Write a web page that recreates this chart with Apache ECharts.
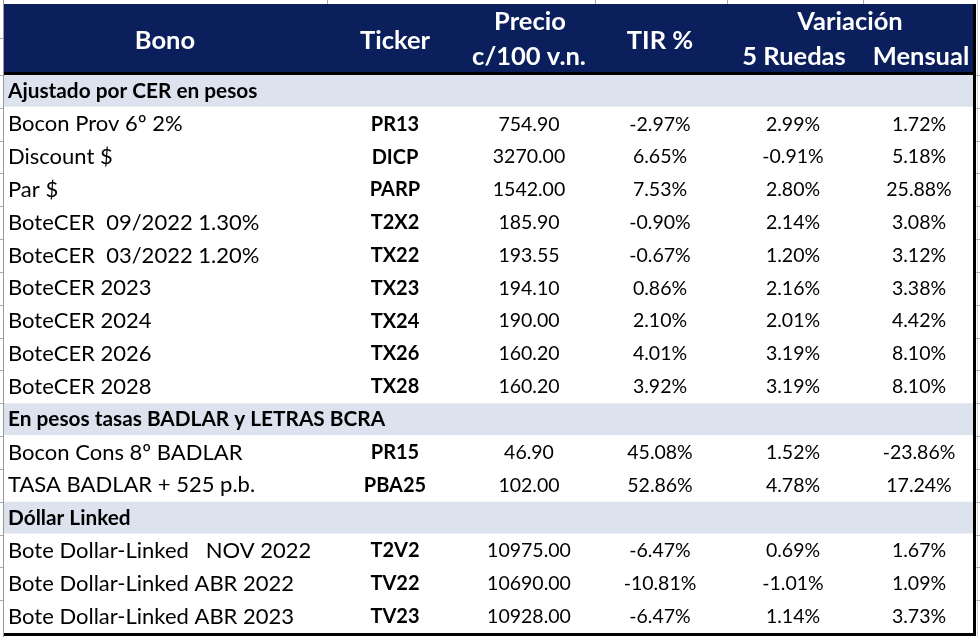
<!DOCTYPE html>
<html>
<head>
<meta charset="utf-8">
<script src="https://cdn.jsdelivr.net/npm/echarts@6/dist/echarts.min.js"></script>
<style>html,body{margin:0;padding:0;background:#fff}#c{width:980px;height:637px}</style>
</head>
<body>
<div id="c"></div>
<script>
// ---- data ----
const sections = ["Ajustado por CER en pesos", "En pesos tasas BADLAR y LETRAS BCRA", "Dóllar Linked"];
const sectionOf = [0,0,0,0,0,0,0,0,0,1,1,2,2,2];
const bonos = ["Bocon Prov 6º 2%", "Discount $", "Par $", "BoteCER  09/2022 1.30%", "BoteCER  03/2022 1.20%", "BoteCER 2023", "BoteCER 2024", "BoteCER 2026", "BoteCER 2028", "Bocon Cons 8º BADLAR", "TASA BADLAR + 525 p.b.", "Bote Dollar-Linked   NOV 2022", "Bote Dollar-Linked ABR 2022", "Bote Dollar-Linked ABR 2023"];
const tickers = ["PR13","DICP","PARP","T2X2","TX22","TX23","TX24","TX26","TX28","PR15","PBA25","T2V2","TV22","TV23"];
const precios = [754.90, 3270.00, 1542.00, 185.90, 193.55, 194.10, 190.00, 160.20, 160.20, 46.90, 102.00, 10975.00, 10690.00, 10928.00];
const tir = [-2.97, 6.65, 7.53, -0.90, -0.67, 0.86, 2.10, 4.01, 3.92, 45.08, 52.86, -6.47, -10.81, -6.47];
const ruedas5 = [2.99, -0.91, 2.80, 2.14, 1.20, 2.16, 2.01, 3.19, 3.19, 1.52, 4.78, 0.69, -1.01, 1.14];
const mensual = [1.72, 5.18, 25.88, 3.08, 3.12, 3.38, 4.42, 8.10, 8.10, -23.86, 17.24, 1.67, 1.09, 3.73];
const headerTop = ["Bono", "Ticker", "Precio", "c/100 v.n.", "TIR %", "Variación", "5 Ruedas", "Mensual"];

// ---- layout / style ----
const FONT = "Lato";
const NAME_SIZE = 22;
const NUM_SIZE = 19.5;
const TICK_SIZE = 20;
const SEC_SIZE = 20.8;
const HEAD_SIZE = 25.5;
const NAVY = "#0a1f5c";
const SECTION_BG = "#dce3ee";
const GRID_GRAY = "#a8a8a8";
const colX = { name: 8, ticker: 395, precio: 529, tir: 660, r5: 793, mens: 919 };

// build rows
const rows = [];
let last = -1;
bonos.forEach((b, i) => {
  if (sectionOf[i] !== last) { last = sectionOf[i]; rows.push({ section: sections[last] }); }
  rows.push({ i });
});
const pct = v => v.toFixed(2) + "%";

const chart = echarts.init(document.getElementById("c"), null, { renderer: "canvas" });

function txt(x, y, text, size, opts) {
  return {
    type: "text",
    style: Object.assign({ x, y, text, fill: "#000", font: `${size}px ${FONT}`, textAlign: "center", textVerticalAlign: "middle" }, opts || {})
  };
}

const headStyle = (x, y, t) => ({ type: "text", z: 12, style: { x, y, text: t, fill: "#fff", font: `bold ${HEAD_SIZE}px ${FONT}`, textAlign: "center", textVerticalAlign: "middle" } });

chart.setOption({
  animation: false,
  grid: { left: 0, right: 0, top: 75, bottom: 4 },
  xAxis: { type: "value", min: 0, max: 980, show: false },
  yAxis: { type: "category", inverse: true, show: false, data: rows.map((r, k) => String(k)) },
  series: [{
    type: "custom",
    encode: { x: 0, y: 1 },
    data: rows.map((r, k) => [0, k]),
    renderItem: function (params, api) {
      const k = api.value(1);
      const r = rows[k];
      const c = api.coord([0, k]);
      const h = api.size([0, 1])[1];
      const y0 = c[1] - h / 2;
      const X = v => api.coord([v, k])[0];
      const children = [];
      // excel gridline stubs outside the table
      children.push({ type: "line", shape: { x1: X(0), y1: Math.round(y0) + 0.5, x2: X(3), y2: Math.round(y0) + 0.5 }, style: { stroke: GRID_GRAY, lineWidth: 1 } });
      children.push({ type: "line", shape: { x1: X(976), y1: Math.round(y0) + 0.5, x2: X(980), y2: Math.round(y0) + 0.5 }, style: { stroke: GRID_GRAY, lineWidth: 1 } });
      if (r.section !== undefined) {
        children.push({ type: "rect", shape: { x: X(4), y: y0, width: X(973) - X(4), height: h - 1 }, style: { fill: SECTION_BG } });
        children.push(txt(X(colX.name), c[1], r.section, SEC_SIZE, { textAlign: "left", font: `bold ${SEC_SIZE}px ${FONT}` }));
      } else {
        const i = r.i;
        children.push(txt(X(colX.name), c[1], bonos[i], NAME_SIZE, { textAlign: "left" }));
        children.push(txt(X(colX.ticker), c[1], tickers[i], TICK_SIZE, { font: `bold ${TICK_SIZE}px ${FONT}` }));
        children.push(txt(X(colX.precio), c[1], precios[i].toFixed(2), NUM_SIZE));
        children.push(txt(X(colX.tir), c[1], pct(tir[i]), NUM_SIZE));
        children.push(txt(X(colX.r5), c[1], pct(ruedas5[i]), NUM_SIZE));
        children.push(txt(X(colX.mens), c[1], pct(mensual[i]), NUM_SIZE));
      }
      return { type: "group", children };
    }
  }],
  graphic: [
    { type: "rect", shape: { x: 4, y: 4, width: 969, height: 68 }, style: { fill: NAVY }, z: 10 },
    { type: "rect", shape: { x: 4, y: 72, width: 972, height: 3 }, style: { fill: "#000" }, z: 11 },
    { type: "rect", shape: { x: 973, y: 4, width: 3, height: 632 }, style: { fill: "#000" }, z: 11 },
    { type: "rect", shape: { x: 4, y: 633, width: 972, height: 3 }, style: { fill: "#000" }, z: 11 },
    { type: "line", shape: { x1: 3.5, y1: 0, x2: 3.5, y2: 637 }, style: { stroke: "#9a9a9a", lineWidth: 1 }, z: 11 },
    { type: "line", shape: { x1: 977.5, y1: 0, x2: 977.5, y2: 637 }, style: { stroke: "#d0d0d0", lineWidth: 1 }, z: 11 },
    { type: "line", shape: { x1: 327.5, y1: 0, x2: 327.5, y2: 4 }, style: { stroke: GRID_GRAY, lineWidth: 1 }, z: 11 },
    { type: "line", shape: { x1: 595.5, y1: 0, x2: 595.5, y2: 4 }, style: { stroke: GRID_GRAY, lineWidth: 1 }, z: 11 },
    { type: "line", shape: { x1: 727.5, y1: 0, x2: 727.5, y2: 4 }, style: { stroke: GRID_GRAY, lineWidth: 1 }, z: 11 },
    { type: "line", shape: { x1: 863.5, y1: 0, x2: 863.5, y2: 4 }, style: { stroke: GRID_GRAY, lineWidth: 1 }, z: 11 },
    { type: "line", shape: { x1: 0, y1: 38.5, x2: 3, y2: 38.5 }, style: { stroke: GRID_GRAY, lineWidth: 1 }, z: 11 },
    headStyle(165, 41, headerTop[0]),
    headStyle(395, 41, headerTop[1]),
    headStyle(530, 22, headerTop[2]),
    headStyle(529, 57, headerTop[3]),
    headStyle(660, 41, headerTop[4]),
    headStyle(850, 22, headerTop[5]),
    headStyle(794, 57, headerTop[6]),
    headStyle(921, 57, headerTop[7])
  ]
});
</script>
</body>
</html>
